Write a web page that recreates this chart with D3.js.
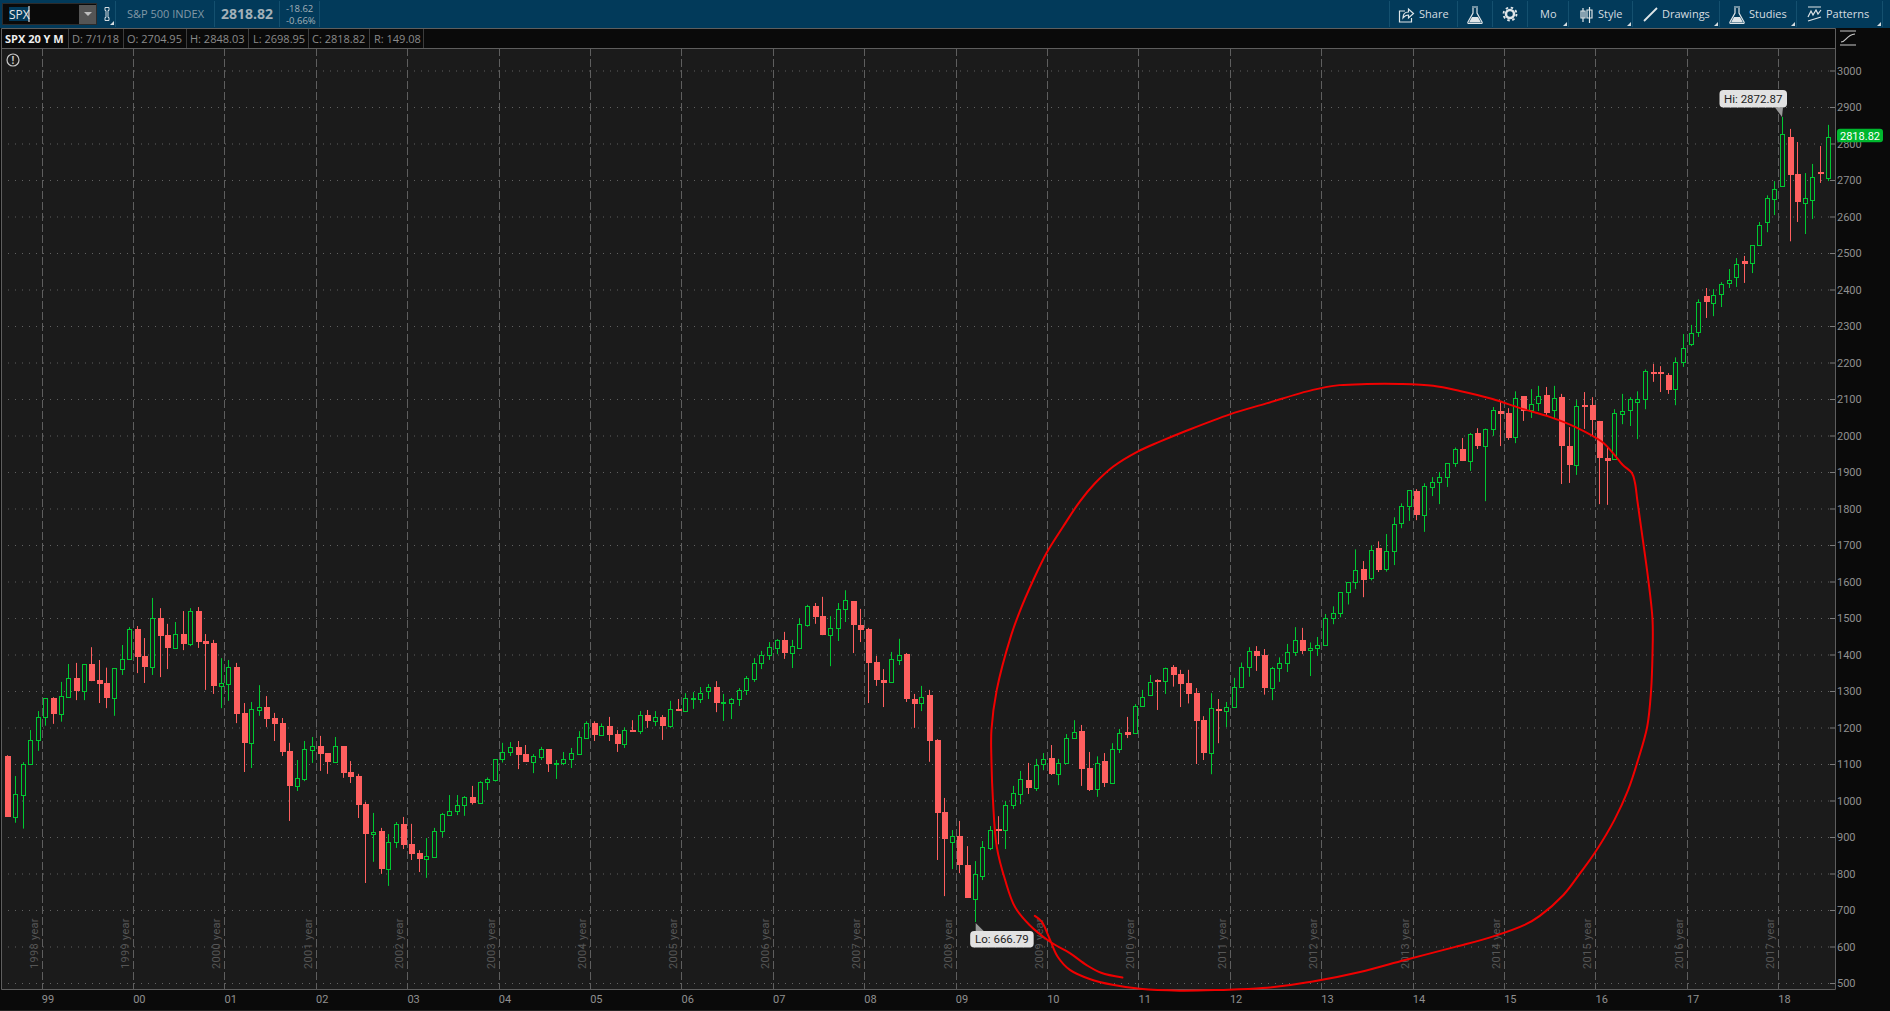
<!DOCTYPE html>
<html>
<head>
<meta charset="utf-8">
<title>SPX 20 Y M</title>
<script src="https://cdn.jsdelivr.net/npm/d3@7"></script>
<style>
  html, body { margin: 0; padding: 0; background: #0a0a0a; overflow: hidden; }
  svg { display: block; }
</style>
</head>
<body>
<script>
// monthly candles, Aug 1998 to Jul 2018
const opens = [
  1122,956,1016,1099,1165,1228,1280,1238,1284,1336,1301,1374,
  1330,1322,1282,1361,1389,1470,1396,1367,1500,1453,1419,1456,
  1430,1519,1437,1431,1315,1320,1366,1240,1158,1249,1256,1226,
  1212,1136,1041,1060,1139,1149,1130,1105,1149,1078,1067,990,
  908,916,812,885,936,881,856,841,846,916,961,972,
  989,1009,994,1050,1057,1113,1132,1147,1128,1106,1120,1141,
  1101,1104,1115,1127,1172,1212,1180,1204,1182,1156,1193,1191,
  1234,1218,1229,1204,1251,1246,1278,1279,1301,1311,1269,1268,
  1279,1303,1334,1378,1400,1417,1440,1404,1419,1482,1533,1505,
  1454,1473,1525,1546,1481,1470,1379,1330,1324,1386,1401,1277,
  1268,1289,1166,968,887,903,823,729,792,871,923,919,
  987,1019,1056,1034,1099,1116,1073,1104,1170,1190,1089,1031,
  1108,1049,1142,1188,1186,1258,1288,1330,1328,1365,1347,1322,
  1294,1221,1131,1251,1246,1257,1312,1365,1410,1399,1309,1362,
  1378,1406,1441,1411,1417,1425,1499,1515,1570,1598,1633,1610,
  1691,1634,1683,1759,1806,1848,1783,1859,1873,1885,1924,1963,
  1929,2006,1971,2019,2067,2062,1997,2108,2069,2088,2111,2069,
  2105,1971,1920,2083,2083,2040,1938,1936,2058,2069,2093,2099,
  2175,2174,2166,2128,2200,2252,2284,2381,2362,2389,2417,2433,
  2478,2473,2522,2584,2647,2684,2818,2716,2636,2644,2722,2705
];
const closes = [
  956,1017,1099,1165,1228,1280,1238,1285,1335,1300,1373,1327,
  1319,1281,1362,1389,1469,1393,1366,1499,1451,1418,1455,1429,
  1519,1434,1429,1314,1321,1365,1237,1158,1250,1255,1223,1210,
  1133,1040,1061,1140,1148,1127,1105,1148,1075,1064,988,908,
  915,812,885,935,878,853,840,847,916,962,972,989,
  1009,994,1050,1058,1113,1132,1146,1125,1106,1121,1140,1100,
  1104,1115,1129,1173,1211,1180,1203,1180,1155,1192,1191,1233,
  1218,1228,1204,1250,1245,1280,1280,1294,1310,1267,1270,1277,
  1304,1335,1378,1400,1420,1439,1404,1422,1483,1532,1503,1453,
  1473,1526,1548,1481,1468,1377,1330,1322,1387,1400,1278,1264,
  1283,1163,966,895,902,823,733,798,872,918,916,987,
  1020,1058,1034,1096,1115,1073,1104,1170,1187,1086,1029,1102,
  1048,1140,1184,1180,1258,1284,1325,1325,1364,1344,1319,1292,
  1218,1130,1253,1245,1257,1312,1365,1409,1396,1309,1362,1378,
  1406,1441,1410,1417,1425,1499,1515,1570,1598,1631,1604,1685,
  1631,1683,1757,1806,1850,1782,1861,1872,1885,1924,1962,1930,
  2003,1971,2019,2069,2059,1993,2104,2067,2085,2107,2062,2104,
  1971,1919,2080,2078,2042,1938,1930,2061,2066,2099,2099,2176,
  2171,2168,2125,2200,2239,2280,2365,2365,2384,2414,2425,2471,
  2470,2521,2576,2650,2674,2825,2714,2640,2650,2707,2719,2819
];
const highs = [
  1124,1067,1105,1193,1245,1280,1283,1325,1374,1377,1373,1420,
  1385,1364,1362,1426,1475,1478,1445,1555,1527,1484,1489,1519,
  1527,1530,1456,1440,1390,1385,1377,1267,1270,1316,1286,1240,
  1226,1158,1111,1163,1174,1177,1130,1174,1149,1108,1073,996,
  966,925,908,941,955,936,864,897,925,966,1015,1015,
  1012,1040,1053,1063,1113,1158,1160,1163,1152,1127,1147,1141,
  1111,1133,1144,1190,1217,1217,1211,1229,1193,1200,1220,1245,
  1248,1245,1234,1273,1278,1294,1297,1311,1319,1327,1292,1281,
  1308,1341,1390,1410,1434,1442,1462,1440,1499,1536,1541,1558,
  1505,1541,1576,1546,1525,1473,1396,1360,1407,1443,1404,1292,
  1314,1303,1168,1007,919,944,875,834,889,930,957,999,
  1040,1081,1103,1114,1130,1152,1114,1182,1220,1207,1133,1121,
  1130,1157,1196,1229,1264,1303,1344,1332,1364,1371,1358,1358,
  1308,1231,1294,1278,1270,1336,1378,1420,1423,1415,1366,1392,
  1429,1475,1473,1433,1448,1511,1532,1570,1598,1688,1656,1699,
  1710,1730,1776,1814,1850,1853,1869,1886,1900,1924,1967,1993,
  2007,2020,2019,2078,2092,2075,2121,2108,2127,2136,2133,2136,
  2114,2023,2097,2119,2105,2040,1966,2072,2114,2105,2121,2181,
  2196,2190,2171,2214,2278,2303,2373,2404,2401,2420,2456,2486,
  2492,2521,2585,2658,2697,2873,2840,2804,2719,2744,2793,2851
];
const lows = [
  955,939,923,1099,1136,1205,1210,1216,1282,1275,1275,1327,
  1267,1253,1232,1344,1386,1349,1322,1344,1338,1360,1419,1412,
  1423,1418,1303,1292,1253,1273,1212,1078,1089,1232,1201,1163,
  1122,944,1026,1053,1103,1081,1073,1105,1062,1048,952,774,
  832,799,766,870,867,837,804,788,846,900,961,960,
  958,989,994,1029,1052,1104,1122,1086,1106,1075,1111,1078,
  1059,1097,1089,1125,1172,1163,1180,1163,1133,1144,1191,1182,
  1199,1204,1166,1199,1245,1246,1251,1267,1278,1242,1218,1223,
  1259,1289,1325,1360,1385,1401,1388,1363,1415,1476,1484,1453,
  1368,1437,1489,1404,1434,1267,1314,1256,1322,1371,1270,1199,
  1245,1106,837,738,812,801,733,667,782,864,880,867,
  977,990,1018,1026,1083,1070,1042,1104,1170,1040,1026,1010,
  1037,1049,1130,1171,1186,1258,1288,1248,1292,1312,1256,1266,
  1100,1111,1072,1157,1201,1257,1312,1339,1355,1290,1275,1325,
  1352,1396,1401,1341,1396,1425,1483,1502,1537,1579,1557,1603,
  1626,1627,1645,1746,1766,1768,1736,1834,1812,1859,1914,1930,
  1903,1963,1820,1999,1971,1988,1979,2040,2048,2067,2056,2047,
  1867,1870,1892,2018,1999,1812,1810,1936,2031,2026,1990,2072,
  2147,2119,2114,2083,2188,2245,2270,2322,2327,2352,2404,2407,
  2418,2445,2521,2557,2604,2681,2532,2585,2552,2593,2692,2697
];

const yearLabels = ["99","00","01","02","03","04","05","06","07","08","09","10","11","12","13","14","15","16","17","18"];
const yearNames = ["1998 year","1999 year","2000 year","2001 year","2002 year","2003 year","2004 year","2005 year","2006 year","2007 year",
  "2008 year","2009 year","2010 year","2011 year","2012 year","2013 year","2014 year","2015 year","2016 year","2017 year"];
const januaries = [5,17,29,41,53,65,77,89,101,113,125,137,149,161,173,185,197,209,221,233];
const priceTicks = [500,600,700,800,900,1000,1100,1200,1300,1400,1500,1600,1700,1800,1900,2000,2100,2200,2300,2400,2500,2600,2700,2800,2900,3000];

// the hand drawn loop: month index and price along the stroke
const loopMonths = [134.9,135.8,136.9,137.9,139.5,142.1,145.1,148.7,153.9,159.2,164.8,171.4,177.6,183.5,190.1,195,199.2,201.2,204.3,206.5,208.4,
  211,212.8,214.1,215.3,215.8,216,216,215.4,214.6,214,213.7,213.3,212.1,211,209.4,206.1,202.5,198.6,195,190.7,187.2,182.8,178.5,174.9,171.4,165.3,160.5,154.8,
  151.3,148.4,145.2,142.8,140.8,138.6,136.4,134.7,132.9,131.8,129.9,129.2,129.2,129.4,129.9,131,132.3,134.2,136.9,139.5,141.7,143.6,146.4];
const loopPrices = [684,668,618,572,536,511,495,484,479,481,486,504,530,563,599,627,659,684,741,801,856,
  947,1029,1111,1202,1298,1404,1495,1612,1733,1823,1870,1897,1919,1947,1982,2021,2051,2075,2100,2122,2136,2141,2141,2138,2125,2088,2058,2013,
  1983,1956,1915,1869,1819,1750,1677,1604,1517,1453,1303,1193,1111,1001,873,782,708,659,613,582,549,528,515];

const toolbarSeps = [115,214,279,319,1389,1457,1492,1527,1568,1632,1719,1796,1882];
const toolbarLabels = ["Share","Mo","Style","Drawings","Studies","Patterns"];
const toolbarLabelX = [1419,1540,1598,1662,1749,1826];
const menuCorners = [1568,1632,1719,1796,1882];
const infoCells = ["D: 7/1/18","O: 2704.95","H: 2848.03","L: 2698.95","C: 2818.82","R: 149.08"];
const infoCellX = [72,127,190,253,312,374];
const infoSeps = [68,123,186,248,308,369,423];

const width = 1890, height = 1011;
const chartLeft = 1, chartRight = 1835, chartTop = 48, chartBottom = 989;
const mainFont = "'Open Sans', sans-serif", axisFont = "Roboto, sans-serif";
const upColor = "#00c832", downColor = "#ff5f5f", bgColor = "#1b1b1b";

const svg = d3.select("body").append("svg").attr("width", width).attr("height", height);

const x = d3.scaleLinear().domain([0, 239]).range([7.4, 1827.7]);
const y = d3.scaleLinear().domain([500, 3000]).range([983, 70.5]);

// backgrounds
svg.append("rect").attr("width", width).attr("height", height).attr("fill", "#0a0a0a");
svg.append("rect").attr("width", width).attr("height", 28).attr("fill", "#023a5a");
svg.append("rect").attr("x", chartLeft).attr("y", chartTop)
  .attr("width", chartRight - chartLeft).attr("height", chartBottom - chartTop).attr("fill", bgColor);
svg.append("rect").attr("y", 1010).attr("width", 1670).attr("height", 1).attr("fill", "#232323");

// grid
const yGrid = svg.append("g").attr("transform", `translate(${chartLeft},0)`)
  .call(d3.axisRight(y).tickValues(priceTicks).tickSize(chartRight - chartLeft).tickFormat(""));
yGrid.select(".domain").remove();
yGrid.selectAll("line").attr("stroke", "#616161").attr("stroke-dasharray", "1 6");

const xGrid = svg.append("g").attr("transform", `translate(0,${chartTop})`);
xGrid.selectAll("line").data(januaries).enter().append("line")
  .attr("x1", d => Math.round(x(d - 0.5)) + 0.5)
  .attr("x2", d => Math.round(x(d - 0.5)) + 0.5)
  .attr("y1", 0).attr("y2", chartBottom - chartTop)
  .attr("stroke", "#5e5e5e").attr("stroke-dasharray", "8 3");

svg.append("g").selectAll("text").data(januaries).enter().append("text")
  .attr("transform", d => `translate(${x(d - 0.5) - 4},969) rotate(-90)`)
  .attr("font-family", axisFont).attr("font-size", 11).attr("letter-spacing", "0.3")
  .attr("fill", "#565656")
  .text((d, i) => yearNames[i]);

// borders
svg.append("path").attr("fill", "none").attr("stroke", "#5e5e5e")
  .attr("d", `M1.5,28.5H1835.5V989.5H1.5ZM1.5,48.5H1835.5`);

// axes
const yAxis = svg.append("g").attr("transform", `translate(${chartRight},0)`)
  .call(d3.axisRight(y).tickValues(priceTicks).tickSizeInner(-5).tickSizeOuter(0).tickPadding(2).tickFormat(d3.format("d")));
yAxis.select(".domain").remove();
yAxis.selectAll("line").attr("stroke", "#7a7a7a");
yAxis.selectAll("text").attr("fill", "#909090").attr("font-family", axisFont).attr("font-size", 11);

const xAxis = svg.append("g").attr("transform", `translate(2,${chartBottom})`)
  .call(d3.axisBottom(x).tickValues(januaries).tickSize(0).tickPadding(6).tickFormat((d, i) => yearLabels[i]));
xAxis.select(".domain").remove();
xAxis.selectAll("text").attr("fill", "#909090").attr("font-family", axisFont).attr("font-size", 11);

// candles
const candles = opens.map((o, i) => ({ i: i, o: o, h: highs[i], l: lows[i], c: closes[i] }));
const isUp = d => d.c >= d.o;
const cx = d => Math.round(x(d.i));

const candle = svg.append("g").selectAll("g").data(candles).enter().append("g");
candle.append("line")
  .attr("x1", d => cx(d) + 0.5).attr("x2", d => cx(d) + 0.5)
  .attr("y1", d => y(d.h)).attr("y2", d => y(d.l))
  .attr("stroke", d => isUp(d) ? upColor : downColor);
candle.append("rect")
  .attr("x", d => isUp(d) ? cx(d) - 1.5 : cx(d) - 2)
  .attr("width", d => isUp(d) ? 4 : 6)
  .attr("y", d => Math.round(y(Math.max(d.o, d.c))) + (isUp(d) ? 0.5 : 0))
  .attr("height", d => Math.max(isUp(d) ? 1 : 2, Math.round(y(Math.min(d.o, d.c))) - Math.round(y(Math.max(d.o, d.c)))))
  .attr("fill", d => isUp(d) ? bgColor : downColor)
  .attr("stroke", d => isUp(d) ? upColor : "none");

// high / low bubbles
function bubble(left, top, w, h, tipX, tipY, baseX, baseY, label) {
  const g = svg.append("g");
  g.append("path").attr("d", `M${baseX - 5},${baseY}L${tipX},${tipY}L${baseX + 3},${baseY}Z`).attr("fill", "#9a9a9a");
  g.append("rect").attr("x", left).attr("y", top).attr("width", w).attr("height", h).attr("rx", 4).attr("fill", "#e2e2e2");
  g.append("text").attr("x", left + w / 2).attr("y", top + h / 2 + 4).attr("text-anchor", "middle")
    .attr("font-family", axisFont).attr("font-size", 11.5).attr("fill", "#222").text(label);
}
bubble(x(233) - 62.5, y(2872.87) - 27, 67.5, 17.5, x(233), y(2872.87), x(233) - 2, y(2872.87) - 9.5, "Hi: 2872.87");
bubble(x(127) - 4.5, y(666.79) + 9, 63.5, 16.5, x(127) + 1, y(666.79) + 1, x(127) + 6, y(666.79) + 9, "Lo: 666.79");

// last price tag
svg.append("rect").attr("x", 1837).attr("y", y(2818.82) - 8).attr("width", 46).attr("height", 13.5).attr("rx", 3).attr("fill", "#00b72e");
svg.append("text").attr("x", 1860).attr("y", y(2818.82) + 3).attr("text-anchor", "middle")
  .attr("font-family", axisFont).attr("font-size", 11).attr("fill", "#fff").text("2818.82");

// red loop drawn over the chart
const loopLine = d3.line().x((d, i) => x(loopMonths[i])).y(d => y(d)).curve(d3.curveCatmullRom.alpha(0.5));
svg.append("path").datum(loopPrices).attr("d", loopLine)
  .attr("fill", "none").attr("stroke", "#f00000").attr("stroke-width", 2).attr("stroke-linecap", "round");

// toolbar, left part
svg.append("rect").attr("x", 2.5).attr("y", 3.5).attr("width", 94).attr("height", 21).attr("fill", "#0a0a0a").attr("stroke", "#2c2c2c");
svg.append("rect").attr("x", 9).attr("y", 7).attr("width", 20).attr("height", 14).attr("fill", "#023a5a");
svg.append("text").attr("x", 9).attr("y", 18.5).attr("font-family", mainFont).attr("font-size", 12).attr("fill", "#e8e8e8").text("SPX");
svg.append("rect").attr("x", 28.5).attr("y", 6).attr("width", 1).attr("height", 16).attr("fill", "#fff");
svg.append("rect").attr("x", 79).attr("y", 5).attr("width", 17).attr("height", 19).attr("fill", "#555");
svg.append("path").attr("d", "M84,12H92L88,16Z").attr("fill", "#bdbdbd");
svg.append("path").attr("d", "M105,7.5h4v3h-1v7h1v3h-4v-3h1v-7h-1Z").attr("fill", "none").attr("stroke", "#d5dde2");
svg.append("path").attr("d", "M114,21V25H110Z").attr("fill", "#d5dde2");

svg.append("g").selectAll("line").data(toolbarSeps).enter().append("line")
  .attr("x1", d => d + 0.5).attr("x2", d => d + 0.5).attr("y1", 1).attr("y2", 27).attr("stroke", "#14506f");

svg.append("text").attr("x", 127).attr("y", 18).attr("font-family", mainFont).attr("font-size", 11).attr("fill", "#8198a6").text("S&P 500 INDEX");
svg.append("text").attr("x", 221).attr("y", 19).attr("font-family", mainFont).attr("font-size", 14).attr("font-weight", 700).attr("fill", "#a3b0b8").text("2818.82");
svg.append("text").attr("x", 286).attr("y", 11.5).attr("font-family", mainFont).attr("font-size", 9.5).attr("fill", "#a3b0b8").text("-18.62");
svg.append("text").attr("x", 286).attr("y", 24).attr("font-family", mainFont).attr("font-size", 9.5).attr("fill", "#a3b0b8").text("-0.66%");

// toolbar, right part
svg.append("g").selectAll("text").data(toolbarLabels).enter().append("text")
  .attr("x", (d, i) => toolbarLabelX[i]).attr("y", 18)
  .attr("font-family", mainFont).attr("font-size", 11).attr("fill", "#d6dde1").text(d => d);
svg.append("g").selectAll("path").data(menuCorners).enter().append("path")
  .attr("d", d => `M${d - 1},22V26H${d - 5}Z`).attr("fill", "#d6dde1");

const icons = svg.append("g").attr("fill", "none").attr("stroke", "#dfe5e8").attr("stroke-width", 1.2);
icons.append("path").attr("d", "M1405,11h-5.5v11h12v-4M1403,18c0,-4 2,-6 5.5,-6v-3l5,4.5l-5,4.5v-3c-2,0 -4,1 -5.5,3Z");
const flask = "m-3,0h6m-5,1v5l-5,9c-.5,1 0,1.5 1,1.5h12c1,0 1.5,-.5 1,-1.5l-5,-9v-5";
icons.append("path").attr("d", "M1475,7" + flask);
icons.append("path").attr("d", "M1737,7" + flask);
svg.append("path").attr("d", "M1472,17h6l3,5.5h-12Z M1734,17h6l3,5.5h-12Z").attr("fill", "#dfe5e8");
svg.append("circle").attr("cx", 1510).attr("cy", 14).attr("r", 4).attr("fill", "none").attr("stroke", "#dfe5e8").attr("stroke-width", 2.5);
svg.append("circle").attr("cx", 1510).attr("cy", 14).attr("r", 6.5).attr("fill", "none").attr("stroke", "#dfe5e8").attr("stroke-width", 1.8).attr("stroke-dasharray", "2.5 2.6");
icons.append("path").attr("d", "M1583,8v14M1589.5,7v16M1581,11h4v7h-4ZM1587,10h5v8h-5Z");
icons.append("path").attr("d", "M1644,21L1657,8").attr("stroke-width", 1.8);
icons.append("path").attr("d", "M1808,7h13M1808,21L1821,17M1808,17l3,-6l2,4l3,-5l2,4l3,-4");

// info row
svg.append("text").attr("x", 5).attr("y", 43).attr("font-family", mainFont).attr("font-size", 11).attr("font-weight", 700).attr("fill", "#eee").text("SPX 20 Y M");
svg.append("g").selectAll("text").data(infoCells).enter().append("text")
  .attr("x", (d, i) => infoCellX[i]).attr("y", 43)
  .attr("font-family", mainFont).attr("font-size", 11).attr("fill", "#8a8a8a").text(d => d);
svg.append("g").selectAll("line").data(infoSeps).enter().append("line")
  .attr("x1", d => d + 0.5).attr("x2", d => d + 0.5).attr("y1", 29).attr("y2", 48).attr("stroke", "#3c3c3c");

// little marks at the corners of the chart
svg.append("circle").attr("cx", 13).attr("cy", 60).attr("r", 6).attr("fill", "none").attr("stroke", "#c8c8c8").attr("stroke-width", 1.2);
svg.append("text").attr("x", 13).attr("y", 64).attr("text-anchor", "middle").attr("font-family", mainFont).attr("font-size", 10).attr("font-weight", 700).attr("fill", "#c8c8c8").text("!");
icons.append("path").attr("d", "M1840,31h16M1840,45h16M1841,42c5,0 5,-7 14,-8").attr("stroke", "#c8c8c8");
</script>
</body>
</html>
